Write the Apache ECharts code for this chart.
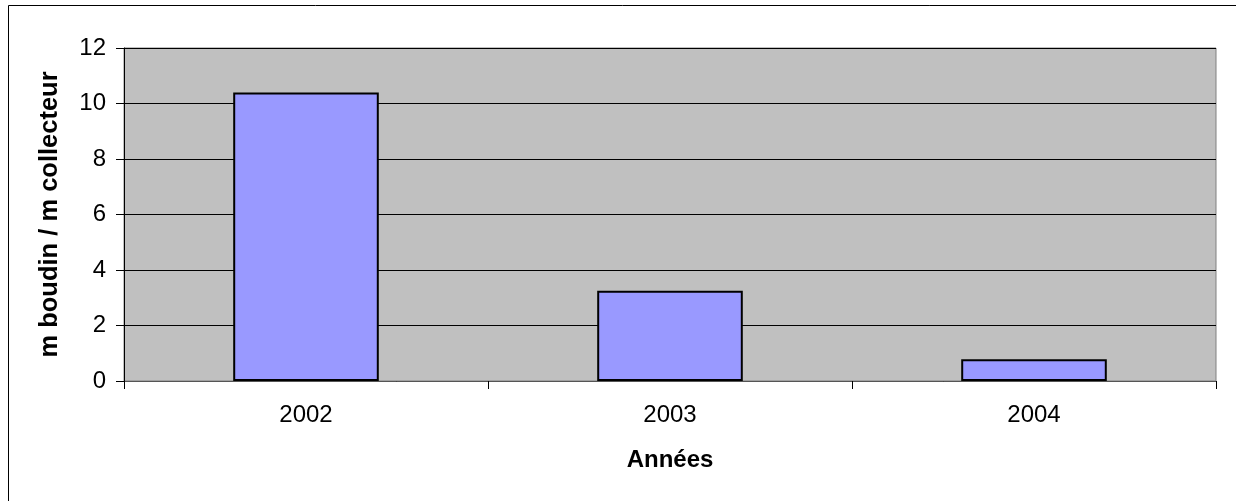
<!DOCTYPE html>
<html>
<head>
<meta charset="utf-8">
<script src="https://cdn.jsdelivr.net/npm/echarts@6/dist/echarts.min.js"></script>
<style>
  html, body { margin: 0; padding: 0; background: #fff; }
  #chart { width: 1236px; height: 501px; }
</style>
</head>
<body>
<div id="chart"></div>
<script>
// values
const years = ['2002', '2003', '2004']
const ratio = [10.4, 3.25, 0.78]
const yTicks = { min: 0, max: 12, step: 2 }

const chart = echarts.init(document.getElementById('chart'))

chart.setOption({
  animation: false,
  textStyle: { fontFamily: 'Liberation Sans, Arial, sans-serif' },
  graphic: [
    {
      type: 'rect',
      shape: { x: 8.5, y: 5.5, width: 1240, height: 510 },
      style: { fill: null, stroke: '#000', lineWidth: 1 },
      silent: true
    }
  ],
  grid: {
    left: 124,
    right: 20,
    top: 48,
    bottom: 120,
    show: true,
    backgroundColor: '#c0c0c0',
    borderColor: '#808080',
    borderWidth: 1
  },
  xAxis: {
    type: 'category',
    data: years,
    name: 'Années',
    nameLocation: 'middle',
    nameGap: 67,
    nameTextStyle: { fontSize: 24, fontWeight: 'bold', color: '#000' },
    axisLine: { lineStyle: { color: '#555', width: 1 } },
    axisTick: { show: true, length: 8, lineStyle: { color: '#000' } },
    axisLabel: { fontSize: 24, color: '#000', margin: 22 }
  },
  yAxis: {
    type: 'value',
    min: yTicks.min,
    max: yTicks.max,
    interval: yTicks.step,
    name: 'm boudin / m collecteur',
    nameLocation: 'middle',
    nameGap: 61,
    nameTextStyle: { fontSize: 25.5, fontWeight: 'bold', color: '#000' },
    axisLine: { show: true, lineStyle: { color: '#000', width: 1 } },
    axisTick: { show: true, length: 8, lineStyle: { color: '#000' } },
    axisLabel: { fontSize: 24, color: '#000', margin: 18 },
    splitLine: { lineStyle: { color: '#000', width: 1 } }
  },
  series: [
    {
      type: 'bar',
      data: ratio,
      barWidth: '40%',
      itemStyle: { color: '#9999ff', borderColor: '#000', borderWidth: 2 }
    }
  ]
})
</script>
</body>
</html>
